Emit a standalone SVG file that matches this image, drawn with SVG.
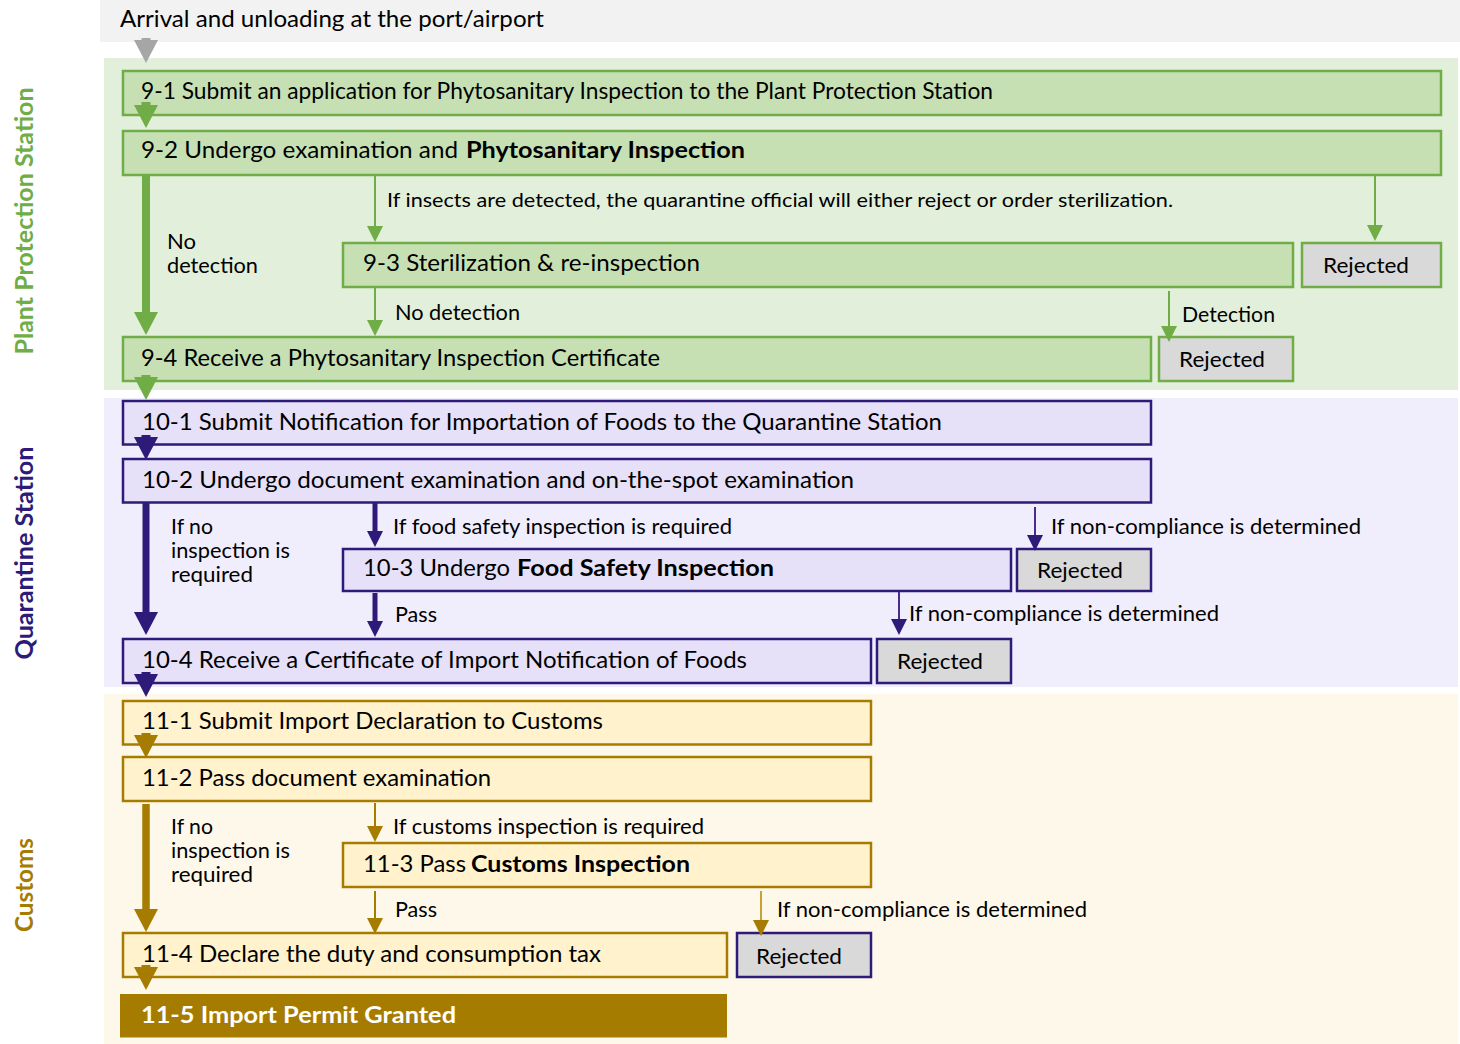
<svg xmlns="http://www.w3.org/2000/svg" width="1460" height="1044" viewBox="0 0 1460 1044">
<style>
text{font-family:Lato,"Noto Sans","Liberation Sans",sans-serif;fill:#000}
.bx{font-size:23px}
.lb{font-size:21px}
.sm{font-size:20px}
.b{font-weight:700}
.side{font-size:25px;font-weight:700}
.g{fill:#c6e0b4;stroke:#70ad47;stroke-width:2.5}
.p{fill:#e6e0f8;stroke:#2e1a78;stroke-width:2.5}
.y{fill:#fff2cc;stroke:#a67c00;stroke-width:2.5}
.rg{fill:#d9d9d9;stroke:#70ad47;stroke-width:2.5}
.rp{fill:#d9d9d9;stroke:#2e1a78;stroke-width:2.5}
.cg{stroke:#70ad47;fill:none}
.cp{stroke:#2e1a78;fill:none}
.cp2{stroke:#4a2c8c;fill:none}
.cy{stroke:#a67c00;fill:none}
.cy2{stroke:#c5a437;fill:none}
</style>
<defs>
<marker id="bG" viewBox="0 0 23 24" refX="0" refY="12" markerWidth="23" markerHeight="24" markerUnits="userSpaceOnUse" orient="auto"><path d="M0,0L23,12L0,24z" fill="#70ad47"/></marker>
<marker id="bA" viewBox="0 0 23 24" refX="0" refY="12" markerWidth="23" markerHeight="24" markerUnits="userSpaceOnUse" orient="auto"><path d="M0,0L23,12L0,24z" fill="#a6a6a6"/></marker>
<marker id="bP" viewBox="0 0 23 24" refX="0" refY="12" markerWidth="23" markerHeight="24" markerUnits="userSpaceOnUse" orient="auto"><path d="M0,0L23,12L0,24z" fill="#2e1a78"/></marker>
<marker id="bY" viewBox="0 0 23 24" refX="0" refY="12" markerWidth="23" markerHeight="24" markerUnits="userSpaceOnUse" orient="auto"><path d="M0,0L23,12L0,24z" fill="#a67c00"/></marker>
<marker id="sG" viewBox="0 0 16 16" refX="0" refY="8" markerWidth="16" markerHeight="16" markerUnits="userSpaceOnUse" orient="auto"><path d="M0,0L16,8L0,16z" fill="#70ad47"/></marker>
<marker id="sP" viewBox="0 0 16 16" refX="0" refY="8" markerWidth="16" markerHeight="16" markerUnits="userSpaceOnUse" orient="auto"><path d="M0,0L16,8L0,16z" fill="#2e1a78"/></marker>
<marker id="sY" viewBox="0 0 16 16" refX="0" refY="8" markerWidth="16" markerHeight="16" markerUnits="userSpaceOnUse" orient="auto"><path d="M0,0L16,8L0,16z" fill="#a67c00"/></marker>
</defs>

<!-- bands -->
<rect x="100" y="0" width="1360" height="42" fill="#f2f2f2"/>
<rect x="104" y="58" width="1354" height="332" fill="#e2efda"/>
<rect x="104" y="398" width="1354" height="289" fill="#f0edfc"/>
<rect x="104" y="694" width="1354" height="350" fill="#fef8eb"/>

<text x="120" y="27" class="bx" textLength="424" lengthAdjust="spacingAndGlyphs">Arrival and unloading at the port/airport</text>

<!-- side labels -->
<text class="side" fill="#70ad47" style="fill:#70ad47" text-anchor="middle" transform="translate(33,221) rotate(-90)" textLength="267" lengthAdjust="spacingAndGlyphs">Plant Protection Station</text>
<text class="side" style="fill:#2e1a78" text-anchor="middle" transform="translate(33,553) rotate(-90)" textLength="213" lengthAdjust="spacingAndGlyphs">Quarantine Station</text>
<text class="side" style="fill:#a67c00" text-anchor="middle" transform="translate(33,885) rotate(-90)" textLength="94" lengthAdjust="spacingAndGlyphs">Customs</text>

<!-- nodes -->
<g id="n9-1"><rect class="g" x="123" y="71" width="1318" height="44"/><text class="bx" x="141" y="99" textLength="852" lengthAdjust="spacingAndGlyphs">9-1 Submit an application for Phytosanitary Inspection to the Plant Protection Station</text></g>
<g id="n9-2"><rect class="g" x="123" y="131" width="1318" height="44"/><text class="bx" x="141" y="158" textLength="317" lengthAdjust="spacingAndGlyphs">9-2 Undergo examination and</text><text class="bx b" x="466" y="158" textLength="279" lengthAdjust="spacingAndGlyphs">Phytosanitary Inspection</text></g>
<g id="n9-3"><rect class="g" x="343" y="243" width="950" height="44"/><text class="bx" x="363" y="271" textLength="337" lengthAdjust="spacingAndGlyphs">9-3 Sterilization &amp; re-inspection</text></g>
<g id="r9-3"><rect class="rg" x="1302" y="243" width="139" height="44"/><text class="lb" x="1323" y="273" textLength="86" lengthAdjust="spacingAndGlyphs">Rejected</text></g>
<g id="n9-4"><rect class="g" x="123" y="337" width="1028" height="44"/><text class="bx" x="141" y="366" textLength="519" lengthAdjust="spacingAndGlyphs">9-4 Receive a Phytosanitary Inspection Certificate</text></g>
<g id="r9-4"><rect class="rg" x="1159" y="337" width="134" height="44"/><text class="lb" x="1179" y="367" textLength="86" lengthAdjust="spacingAndGlyphs">Rejected</text></g>

<g id="n10-1"><rect class="p" x="123" y="401" width="1028" height="43.5"/><text class="bx" x="142" y="430" textLength="800" lengthAdjust="spacingAndGlyphs">10-1 Submit Notification for Importation of Foods to the Quarantine Station</text></g>
<g id="n10-2"><rect class="p" x="123" y="459" width="1028" height="43.5"/><text class="bx" x="142" y="488" textLength="712" lengthAdjust="spacingAndGlyphs">10-2 Undergo document examination and on-the-spot examination</text></g>
<g id="n10-3"><rect class="p" x="343" y="549" width="668" height="42"/><text class="bx" x="363" y="576" textLength="147" lengthAdjust="spacingAndGlyphs">10-3 Undergo</text><text class="bx b" x="517" y="576" textLength="257" lengthAdjust="spacingAndGlyphs">Food Safety Inspection</text></g>
<g id="r10-3"><rect class="rp" x="1017" y="549" width="134" height="42"/><text class="lb" x="1037" y="578" textLength="86" lengthAdjust="spacingAndGlyphs">Rejected</text></g>
<g id="n10-4"><rect class="p" x="123" y="639" width="748" height="44"/><text class="bx" x="142" y="668" textLength="605" lengthAdjust="spacingAndGlyphs">10-4 Receive a Certificate of Import Notification of Foods</text></g>
<g id="r10-4"><rect class="rp" x="877" y="639" width="134" height="44"/><text class="lb" x="897" y="669" textLength="86" lengthAdjust="spacingAndGlyphs">Rejected</text></g>

<g id="n11-1"><rect class="y" x="123" y="701" width="748" height="43.5"/><text class="bx" x="142" y="729" textLength="461" lengthAdjust="spacingAndGlyphs">11-1 Submit Import Declaration to Customs</text></g>
<g id="n11-2"><rect class="y" x="123" y="757" width="748" height="44"/><text class="bx" x="142" y="786" textLength="349" lengthAdjust="spacingAndGlyphs">11-2 Pass document examination</text></g>
<g id="n11-3"><rect class="y" x="343" y="843" width="528" height="44"/><text class="bx" x="363" y="872" textLength="103" lengthAdjust="spacingAndGlyphs">11-3 Pass</text><text class="bx b" x="471" y="872" textLength="219" lengthAdjust="spacingAndGlyphs">Customs Inspection</text></g>
<g id="n11-4"><rect class="y" x="123" y="933" width="604" height="44"/><text class="bx" x="142" y="962" textLength="459" lengthAdjust="spacingAndGlyphs">11-4 Declare the duty and consumption tax</text></g>
<g id="r11-4"><rect class="rp" x="737" y="933" width="134" height="44"/><text class="lb" x="756" y="964" textLength="86" lengthAdjust="spacingAndGlyphs">Rejected</text></g>
<g id="n11-5"><rect x="120" y="994" width="607" height="43.5" fill="#a67c00"/><text class="bx b" x="141" y="1023" style="fill:#fff" textLength="315" lengthAdjust="spacingAndGlyphs">11-5 Import Permit Granted</text></g>

<!-- connector labels -->
<g id="labels">
<text class="sm" x="387" y="207" textLength="786" lengthAdjust="spacingAndGlyphs">If insects are detected, the quarantine official will either reject or order sterilization.</text>
<text class="lb" x="167" y="249" textLength="29" lengthAdjust="spacingAndGlyphs">No</text>
<text class="lb" x="167" y="273" textLength="91" lengthAdjust="spacingAndGlyphs">detection</text>
<text class="lb" x="395" y="320" textLength="125" lengthAdjust="spacingAndGlyphs">No detection</text>
<text class="lb" x="1182" y="322" textLength="93" lengthAdjust="spacingAndGlyphs">Detection</text>

<text class="lb" x="171" y="534" textLength="42" lengthAdjust="spacingAndGlyphs">If no</text>
<text class="lb" x="171" y="558" textLength="119" lengthAdjust="spacingAndGlyphs">inspection is</text>
<text class="lb" x="171" y="582" textLength="82" lengthAdjust="spacingAndGlyphs">required</text>
<text class="lb" x="393" y="534" textLength="339" lengthAdjust="spacingAndGlyphs">If food safety inspection is required</text>
<text class="lb" x="1051" y="534" textLength="310" lengthAdjust="spacingAndGlyphs">If non-compliance is determined</text>
<text class="lb" x="395" y="622" textLength="42" lengthAdjust="spacingAndGlyphs">Pass</text>
<text class="lb" x="909" y="621" textLength="310" lengthAdjust="spacingAndGlyphs">If non-compliance is determined</text>

<text class="lb" x="171" y="834" textLength="42" lengthAdjust="spacingAndGlyphs">If no</text>
<text class="lb" x="171" y="858" textLength="119" lengthAdjust="spacingAndGlyphs">inspection is</text>
<text class="lb" x="171" y="882" textLength="82" lengthAdjust="spacingAndGlyphs">required</text>
<text class="lb" x="393" y="834" textLength="311" lengthAdjust="spacingAndGlyphs">If customs inspection is required</text>
<text class="lb" x="395" y="917" textLength="42" lengthAdjust="spacingAndGlyphs">Pass</text>
<text class="lb" x="777" y="917" textLength="310" lengthAdjust="spacingAndGlyphs">If non-compliance is determined</text>
</g>

<!-- connectors -->
<g id="connectors">
<line x1="146" y1="38" x2="146" y2="40" stroke="#a6a6a6" stroke-width="9" marker-end="url(#bA)"/>
<line class="cg" x1="146" y1="102" x2="146" y2="105" stroke-width="9" marker-end="url(#bG)"/>
<line class="cg" x1="146" y1="175" x2="146" y2="312" stroke-width="8" marker-end="url(#bG)"/>
<line class="cg" x1="375" y1="175" x2="375" y2="226" stroke-width="2" marker-end="url(#sG)"/>
<line class="cg" x1="1375" y1="175" x2="1375" y2="225" stroke-width="2" marker-end="url(#sG)"/>
<line class="cg" x1="375" y1="287" x2="375" y2="320" stroke-width="2" marker-end="url(#sG)"/>
<line class="cg" x1="1169" y1="291" x2="1169" y2="326" stroke-width="2" marker-end="url(#sG)"/>
<line class="cg" x1="146" y1="375" x2="146" y2="377" stroke-width="9" marker-end="url(#bG)"/>

<line class="cp" x1="146" y1="435" x2="146" y2="437" stroke-width="9" marker-end="url(#bP)"/>
<line class="cp" x1="146" y1="503" x2="146" y2="612" stroke-width="7" marker-end="url(#bP)"/>
<line class="cp" x1="375" y1="503" x2="375" y2="531" stroke-width="5" marker-end="url(#sP)"/>
<line class="cp2" x1="1035" y1="507" x2="1035" y2="535" stroke-width="2" marker-end="url(#sP)"/>
<line class="cp" x1="375" y1="593" x2="375" y2="621" stroke-width="5" marker-end="url(#sP)"/>
<line class="cp2" x1="899" y1="592" x2="899" y2="619" stroke-width="2" marker-end="url(#sP)"/>
<line class="cp" x1="146" y1="672" x2="146" y2="674" stroke-width="9" marker-end="url(#bP)"/>

<line class="cy" x1="146" y1="733" x2="146" y2="735" stroke-width="9" marker-end="url(#bY)"/>
<line class="cy" x1="146" y1="804" x2="146" y2="909" stroke-width="7.5" marker-end="url(#bY)"/>
<line class="cy" x1="375" y1="803" x2="375" y2="826" stroke-width="2" marker-end="url(#sY)"/>
<line class="cy" x1="375" y1="891" x2="375" y2="918" stroke-width="2" marker-end="url(#sY)"/>
<line class="cy2" x1="761" y1="891" x2="761" y2="920" stroke-width="2" marker-end="url(#sY)"/>
<line class="cy" x1="146" y1="965" x2="146" y2="967" stroke-width="9" marker-end="url(#bY)"/>
</g>
</svg>
